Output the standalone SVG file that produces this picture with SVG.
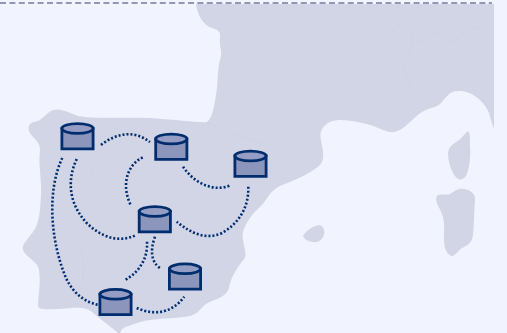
<svg xmlns="http://www.w3.org/2000/svg" width="507" height="333" viewBox="0 0 507 333">
<style>
.land{fill:#d1d5e6}
.border{fill:none;stroke:#cfd3e5;stroke-width:1}
.link{fill:none;stroke:#002d6e;stroke-width:2.600;stroke-dasharray:2 2}
.body{fill:#8c96bd;stroke:#002d6e;stroke-width:2.800;stroke-linejoin:miter}
.top{fill:#959dc4;stroke:#002d6e;stroke-width:2.800}
</style>
<defs>
<g id="db">
<path class="body" d="M1.400 6.200V26.600H32.600V6.200Z"/>
<ellipse class="top" cx="17" cy="6.200" rx="15.600" ry="4.900"/>
</g>
</defs>
<rect width="507" height="333" fill="#f1f4fe"/>
<g id="map">
<path class="land" d="M196 4C197 14 203 25 212 28C218 30 221 31 220 38C219 46 222 50 221 56C217 68 218 85 216 95C214 108 212 118 207 122C200 123 180 120 150 118C120 117 95 119 78 116C68 112 60 108 53 110C46 113 42 121 34 122C29 123 27 128 30 133C35 140 40 142 40 150C38 165 42 180 41 195C40 210 40 222 33 232C27 240 21 245 23 250C26 258 37 260 39 270C41 285 38 295 38 306C40 311 50 309 60 309C72 308 85 306 92 312C100 319 110 326 118 333H120C122 326 130 326 137 323C150 318 175 319 190 316C198 314 201 308 206 304C214 299 226 298 229 288C231 278 235 270 245 258C247 250 241 240 243 232C246 222 252 214 262 205C268 198 270 191 280 186C295 180 310 174 320 165C326 158 322 148 321 140C319 132 322 126 330 122C340 118 355 121 370 125C380 128 387 133 394 132C405 130 412 118 422 112C430 107 437 108 441 103C447 96 450 91 458 91C470 90 484 100 489 113C491 121 493 125 494 130V4Z"/>
<path class="land" d="M467 132C470 130 470 136 470 146C471 158 469 170 466 176C462 181 458 180 455 176C451 170 448 162 448 153C449 145 454 144 459 140C463 137 464 134 467 132Z"/>
<path class="land" d="M437 196C440 193 446 196 450 194C455 191 458 188 464 189C471 190 476 194 475 201C474 212 474 225 473 235C472 243 468 245 462 248C458 250 455 257 451 256C446 253 444 247 444 240C444 230 445 222 442 214C440 208 434 201 437 196Z"/>
<path class="land" d="M303 236C305 232 311 227 318 225C323 225 325 229 324 234C323 240 318 243 313 242C309 242 304 239 303 236Z"/>
<path class="border" d="M392 32C397 20 405 28 412 32C416 40 411 50 404 62C402 72 412 82 411 90C413 98 425 95 428 100M411 44C425 44 434 26 443 34C448 38 456 48 463 32C470 26 480 30 487 22"/>
<path class="border" d="M207 122C225 132 250 140 268 144M80 200C90 186 95 172 90 168M70 236C85 238 84 270 82 290"/>
</g>
<line x1="0" y1="3" x2="492" y2="3" stroke="#737a9c" stroke-width="1.300" stroke-dasharray="6 3.400"/>
<g id="connectors">
<path class="link" d="M101 145C115 134 133 129 150 142"/>
<path class="link" d="M142.700 157.300C127 165 121 185 130.700 205"/>
<path class="link" d="M76.700 159C66 182 70 205 86.700 223C102 238 120 243 136 235"/>
<path class="link" d="M62.300 158C47 190 50 240 66 278C74 295 86 302 98 305"/>
<path class="link" d="M183 166.700C194 183 214 193 231 185"/>
<path class="link" d="M248.300 186.700C249 208 238 224 222 233C206 240 192 234 176.700 221.700"/>
<path class="link" d="M147 241.700C148 260 138 273 124 280.700"/>
<path class="link" d="M155 236.700C150 250 151 262 160 268"/>
<path class="link" d="M136.700 308C155 316 172 313 184.300 296.700"/>
</g>
<g id="node-a"><use href="#db" x="60.500" y="122.300"/></g>
<g id="node-b"><use href="#db" x="154.300" y="132.800"/></g>
<g id="node-c"><use href="#db" x="233.500" y="149.800"/></g>
<g id="node-d"><use href="#db" x="137.800" y="205.300"/></g>
<g id="node-e"><use href="#db" x="168" y="262.600"/></g>
<g id="node-f"><use href="#db" x="98.500" y="288.100"/></g>
</svg>
